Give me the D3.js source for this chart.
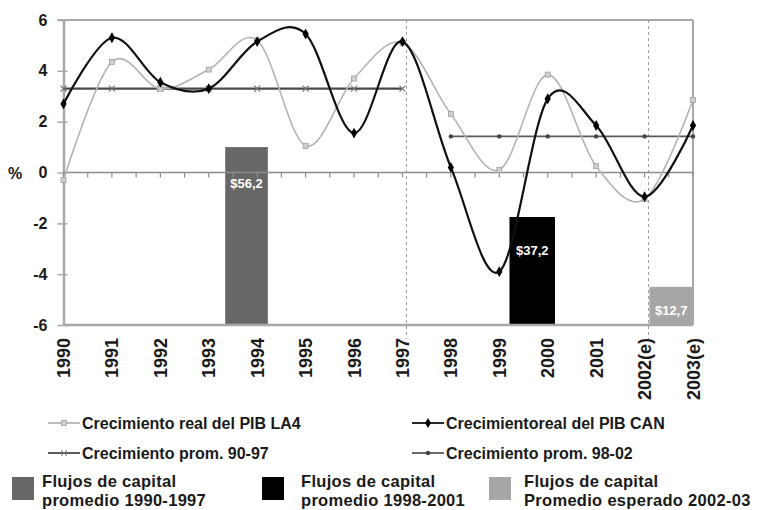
<!DOCTYPE html>
<head>
  <meta charset="utf-8">
  <script src="https://d3js.org/d3.v7.min.js"></script>
  <style>
    body { margin: 0; background: #fff; }
    text { font-family: Arial, "Liberation Sans", sans-serif; font-weight: bold; fill: #1a1a1a; }
  </style>
</head>
<body>
  <svg width="759" height="510"></svg>
  <script>
    // datos
    var anios = [1990, 1991, 1992, 1993, 1994, 1995, 1996, 1997, 1998, 1999, 2000, 2001, 2002, 2003];
    var etiquetasAnio = ["1990", "1991", "1992", "1993", "1994", "1995", "1996", "1997", "1998", "1999", "2000", "2001", "2002(e)", "2003(e)"];
    var pibLA4 = [-0.3, 4.35, 3.3, 4.05, 5.2, 1.05, 3.7, 5.1, 2.3, 0.1, 3.85, 0.25, -1.05, 2.85];
    var pibCAN = [2.7, 5.3, 3.55, 3.3, 5.15, 5.45, 1.55, 5.15, 0.2, -3.9, 2.9, 1.85, -0.95, 1.85];
    var prom9097 = { desde: 1990, hasta: 1997, valor: 3.3 };
    var prom9802 = { desde: 1998, hasta: 2003, valor: 1.42 };
    var flujos = [
      { desde: 1993.34, hasta: 1994.22, valor: 1.0, etiqueta: "$56,2", etiquetaY: -0.4, color: "#676767" },
      { desde: 1999.21, hasta: 2000.15, valor: -1.75, etiqueta: "$37,2", etiquetaY: -3.05, color: "#000000" },
      { desde: 2002.1, hasta: 2003, valor: -4.5, etiqueta: "$12,7", etiquetaY: -5.4, color: "#a6a6a6" }
    ];
    var cortes = [1997, 2002];
    var yTicks = [-6, -4, -2, 0, 2, 4, 6];

    var svg = d3.select("svg");

    var x = d3.scaleLinear().domain([1990, 2003]).range([63.5, 693]);
    var y = d3.scaleLinear().domain([-6, 6]).range([325, 20]);

    var gris = "#a8a8a8";

    // barras de flujos de capital
    svg.selectAll(".barra")
      .data(flujos)
      .enter().append("rect")
      .attr("class", "barra")
      .attr("x", function (d) { return x(d.desde); })
      .attr("width", function (d) { return x(d.hasta) - x(d.desde); })
      .attr("y", function (d) { return y(d.valor); })
      .attr("height", function (d) { return y(-6) - y(d.valor); })
      .attr("fill", function (d) { return d.color; });

    // marco
    svg.append("line").attr("x1", x(1990) - 6).attr("x2", x(2003)).attr("y1", y(6)).attr("y2", y(6))
      .attr("stroke", gris).attr("stroke-width", 2);
    svg.append("line").attr("x1", x(2003)).attr("x2", x(2003)).attr("y1", y(6)).attr("y2", y(-6))
      .attr("stroke", gris).attr("stroke-width", 2);
    svg.append("line").attr("x1", x(1990)).attr("x2", x(2003)).attr("y1", y(-6)).attr("y2", y(-6))
      .attr("stroke", gris).attr("stroke-width", 2.5);

    // lineas verticales discontinuas
    svg.selectAll(".corte")
      .data(cortes)
      .enter().append("line")
      .attr("x1", function (d) { return x(d) + 4; })
      .attr("x2", function (d) { return x(d) + 4; })
      .attr("y1", y(6))
      .attr("y2", y(-6) + 14)
      .attr("stroke", "#9a9a9a")
      .attr("stroke-width", 1)
      .attr("stroke-dasharray", "3,3");

    // eje y
    var yAxis = d3.axisLeft(y).tickValues(yTicks).tickSize(0).tickPadding(16)
      .tickFormat(function (d) { return d; });
    var gy = svg.append("g").attr("transform", "translate(" + x(1990) + ",0)").call(yAxis);
    gy.select(".domain").attr("stroke", gris).attr("stroke-width", 2.5);
    gy.selectAll("text").style("font-size", "16px").attr("fill", "#1a1a1a");
    gy.selectAll(".tick").append("line")
      .attr("x1", -6).attr("x2", 4).attr("stroke", gris).attr("stroke-width", 1.5);

    svg.append("text").attr("x", 8).attr("y", y(0) + 6).style("font-size", "16px").text("%");

    // linea de cero con marcas
    svg.append("line").attr("x1", x(1990)).attr("x2", x(2003)).attr("y1", y(0)).attr("y2", y(0))
      .attr("stroke", "#8c8c8c").attr("stroke-width", 1.5);
    var medios = d3.range(0, anios.length * 2 - 1).map(function (i) { return 1990 + i / 2; });
    svg.selectAll(".marca0")
      .data(medios)
      .enter().append("line")
      .attr("x1", function (d) { return x(d); })
      .attr("x2", function (d) { return x(d); })
      .attr("y1", y(0))
      .attr("y2", y(0) + 5)
      .attr("stroke", "#8c8c8c")
      .attr("stroke-width", 1.2);

    // eje x (etiquetas rotadas)
    var xAxis = d3.axisBottom(x).tickValues(anios).tickSize(0)
      .tickFormat(function (d, i) { return etiquetasAnio[i]; });
    var gx = svg.append("g").attr("transform", "translate(0," + y(-6) + ")").call(xAxis);
    gx.select(".domain").remove();
    gx.selectAll("text")
      .style("font-size", "18px")
      .attr("fill", "#1a1a1a")
      .attr("text-anchor", "end")
      .attr("dy", null)
      .attr("y", 0)
      .attr("transform", "translate(6,13) rotate(-90)");

    // lineas de promedio
    var recta = d3.line().x(function (d) { return x(d[0]); }).y(function (d) { return y(d[1]); });
    function promedio(p) {
      return d3.range(p.desde, p.hasta + 1).map(function (a) { return [a, p.valor]; });
    }
    svg.append("path").datum(promedio(prom9097)).attr("d", recta)
      .attr("fill", "none").attr("stroke", "#4a4a4a").attr("stroke-width", 2.2);
    svg.append("path").datum(promedio(prom9802)).attr("d", recta)
      .attr("fill", "none").attr("stroke", "#5a5a5a").attr("stroke-width", 1.6);

    function marcaX(sel, color) {
      sel.each(function (d) {
        var g = d3.select(this);
        g.append("line").attr("x1", x(d[0]) - 3).attr("x2", x(d[0]) + 3).attr("y1", y(d[1]) - 3).attr("y2", y(d[1]) + 3)
          .attr("stroke", color).attr("stroke-width", 1.2);
        g.append("line").attr("x1", x(d[0]) - 3).attr("x2", x(d[0]) + 3).attr("y1", y(d[1]) + 3).attr("y2", y(d[1]) - 3)
          .attr("stroke", color).attr("stroke-width", 1.2);
      });
    }
    svg.append("g").selectAll("g").data(promedio(prom9097)).enter().append("g").call(marcaX, "#777");
    svg.append("g").selectAll("circle").data(promedio(prom9802)).enter().append("circle")
      .attr("cx", function (d) { return x(d[0]); }).attr("cy", function (d) { return y(d[1]); })
      .attr("r", 2.2).attr("fill", "#444");

    // curvas suavizadas
    var curva = d3.line()
      .curve(d3.curveCardinal.tension(0))
      .x(function (d, i) { return x(anios[i]); })
      .y(function (d) { return y(d); });

    svg.append("path").datum(pibLA4).attr("d", curva)
      .attr("fill", "none").attr("stroke", "#b4b4b4").attr("stroke-width", 1.6);
    svg.selectAll(".mLA4").data(pibLA4).enter().append("rect")
      .attr("x", function (d, i) { return x(anios[i]) - 2.5; })
      .attr("y", function (d) { return y(d) - 2.5; })
      .attr("width", 5).attr("height", 5)
      .attr("fill", "#cfcfcf").attr("stroke", "#a0a0a0").attr("stroke-width", 0.8);

    svg.append("path").datum(pibCAN).attr("d", curva)
      .attr("fill", "none").attr("stroke", "#111").attr("stroke-width", 2.2);
    svg.selectAll(".mCAN").data(pibCAN).enter().append("path")
      .attr("transform", function (d, i) { return "translate(" + x(anios[i]) + "," + y(d) + ")"; })
      .attr("d", d3.symbol().type(d3.symbolDiamond).size(34))
      .attr("fill", "#000");

    // etiquetas de las barras
    svg.selectAll(".etq")
      .data(flujos)
      .enter().append("text")
      .attr("x", function (d) { return (x(d.desde) + x(d.hasta)) / 2; })
      .attr("y", function (d) { return y(d.etiquetaY) + 5; })
      .attr("text-anchor", "middle")
      .style("font-size", "13px")
      .style("fill", "#fff")
      .text(function (d) { return d.etiqueta; });

    // leyenda de lineas
    var leyenda = [
      { texto: "Crecimiento real del PIB LA4", x: 48, y: 423, color: "#b4b4b4", tipo: "cuadro" },
      { texto: "Crecimientoreal del PIB CAN", x: 412, y: 423, color: "#111", tipo: "rombo" },
      { texto: "Crecimiento prom. 90-97", x: 48, y: 453, color: "#4a4a4a", tipo: "equis" },
      { texto: "Crecimiento prom. 98-02", x: 412, y: 453, color: "#5a5a5a", tipo: "punto" }
    ];
    var gl = svg.append("g").selectAll("g").data(leyenda).enter().append("g");
    gl.append("line")
      .attr("x1", function (d) { return d.x; }).attr("x2", function (d) { return d.x + 32; })
      .attr("y1", function (d) { return d.y; }).attr("y2", function (d) { return d.y; })
      .attr("stroke", function (d) { return d.color; }).attr("stroke-width", 1.8);
    gl.each(function (d) {
      var g = d3.select(this), cx = d.x + 16, cy = d.y;
      if (d.tipo === "cuadro") {
        g.append("rect").attr("x", cx - 2.5).attr("y", cy - 2.5).attr("width", 5).attr("height", 5)
          .attr("fill", "#cfcfcf").attr("stroke", "#a0a0a0").attr("stroke-width", 0.8);
      } else if (d.tipo === "rombo") {
        g.append("path").attr("transform", "translate(" + cx + "," + cy + ")")
          .attr("d", d3.symbol().type(d3.symbolDiamond).size(30)).attr("fill", "#000");
      } else if (d.tipo === "equis") {
        g.append("line").attr("x1", cx - 3).attr("x2", cx + 3).attr("y1", cy - 3).attr("y2", cy + 3).attr("stroke", "#777");
        g.append("line").attr("x1", cx - 3).attr("x2", cx + 3).attr("y1", cy + 3).attr("y2", cy - 3).attr("stroke", "#777");
      } else {
        g.append("circle").attr("cx", cx).attr("cy", cy).attr("r", 2.2).attr("fill", "#444");
      }
    });
    gl.append("text")
      .attr("x", function (d) { return d.x + 34; })
      .attr("y", function (d) { return d.y + 6; })
      .style("font-size", "16px")
      .text(function (d) { return d.texto; });

    // leyenda de barras
    var leyendaBarras = [
      { lineas: ["Flujos de capital", "promedio 1990-1997"], x: 12, tx: 42, color: "#676767" },
      { lineas: ["Flujos de capital", "promedio 1998-2001"], x: 262, tx: 301, color: "#000000" },
      { lineas: ["Flujos de capital", "Promedio esperado 2002-03"], x: 489, tx: 524, color: "#a6a6a6" }
    ];
    var gb = svg.append("g").selectAll("g").data(leyendaBarras).enter().append("g");
    gb.append("rect")
      .attr("x", function (d) { return d.x; }).attr("y", 477)
      .attr("width", 22).attr("height", 23)
      .attr("fill", function (d) { return d.color; });
    gb.append("text")
      .attr("x", function (d) { return d.tx; })
      .attr("y", 487)
      .style("font-size", "16.5px")
      .style("letter-spacing", "0.3px")
      .text(function (d) { return d.lineas[0]; });
    gb.append("text")
      .attr("x", function (d) { return d.tx; })
      .attr("y", 506)
      .style("font-size", "16.5px")
      .style("letter-spacing", "0.3px")
      .text(function (d) { return d.lineas[1]; });
  </script>
</body>
